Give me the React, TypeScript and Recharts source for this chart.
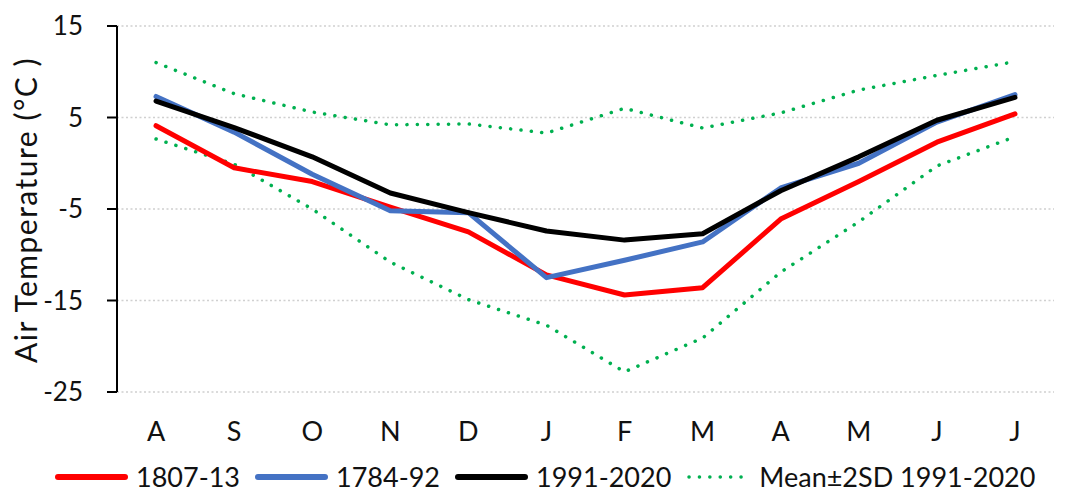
import React from "react";
import {
  LineChart,
  Line,
  XAxis,
  YAxis,
  CartesianGrid,
  Legend,
} from "recharts";

const MONTHS = ["A", "S", "O", "N", "D", "J", "F", "M", "A", "M", "J", "J"];
const T_1807_13 = [4.1, -0.5, -2.0, -4.8, -7.5, -12.2, -14.4, -13.6, -6.1, -2.0, 2.3, 5.4];
const T_1784_92 = [7.3, 3.4, -1.2, -5.2, -5.4, -12.5, -10.6, -8.6, -2.7, 0.0, 4.5, 7.5];
const T_1991_2020 = [6.8, 3.9, 0.7, -3.25, -5.4, -7.4, -8.4, -7.7, -3.0, 0.7, 4.7, 7.2];
const PLUS_2SD = [11.0, 7.6, 5.6, 4.2, 4.3, 3.3, 6.0, 3.85, 5.5, 8.0, 9.6, 11.1];
const MINUS_2SD = [2.65, -0.1, -5.0, -10.8, -14.9, -17.7, -22.8, -19.1, -11.9, -6.4, -0.3, 2.9];
const Y_TICKS = [-25, -15, -5, 5, 15];

const FONT = "Lato, 'Open Sans', sans-serif";
const GREEN = "#00b050";

const data = MONTHS.map((m, i) => ({
  x: i + 0.5,
  m,
  a: T_1807_13[i],
  b: T_1784_92[i],
  c: T_1991_2020[i],
  hi: PLUS_2SD[i],
  lo: MINUS_2SD[i],
}));

const LEGEND_ITEMS = [
  { name: "1807-13", color: "#ff0000", dotted: false },
  { name: "1784-92", color: "#4472c4", dotted: false },
  { name: "1991-2020", color: "#000000", dotted: false },
  { name: "Mean±2SD 1991-2020", color: GREEN, dotted: true },
];

const LegendContent = () => (
  <div style={{ display: "flex", alignItems: "center", height: 30, fontFamily: FONT, fontSize: 27, lineHeight: "30px", color: "#111", whiteSpace: "nowrap" }}>
    {LEGEND_ITEMS.map((it) => (
      <div key={it.name} style={{ display: "flex", flex: "none", alignItems: "center", marginRight: 13 }}>
        <svg width={it.dotted ? 66 : 73} height={10} style={{ flex: "none", marginRight: it.dotted ? 7 : 8 }}>
          <line
            x1={3}
            y1={5}
            x2={it.dotted ? 65 : 70}
            y2={5}
            stroke={it.color}
            strokeWidth={it.dotted ? 3.5 : 6}
            strokeLinecap="round"
            strokeDasharray={it.dotted ? "0.1 10.3" : undefined}
          />
        </svg>
        <span style={{ flex: "none", display: "inline-block", paddingRight: 2 }}>{it.name}</span>
      </div>
    ))}
  </div>
);

const YLabel = () => (
  <text
    x={25}
    y={210}
    transform="rotate(-90 25 210)"
    textAnchor="middle"
    dominantBaseline="central"
    fontFamily={FONT}
    fontSize={30}
    letterSpacing={1.5}
    fill="#111"
  >
    Air Temperature (°C )
  </text>
);

const tickFont = { fontFamily: FONT, fill: "#111" };

export default function App() {
  return (
    <div style={{ position: "absolute", left: 0, top: 0, width: 1069, height: 491, background: "#fff" }}>
      <LineChart
        width={1069}
        height={491}
        data={data}
        margin={{ top: 26, right: 15, left: 0, bottom: 49 }}
      >
        <CartesianGrid
          xAxisId="tk"
          vertical={false}
          stroke="#d0d0d0"
          strokeWidth={1.5}
          strokeDasharray="2 2.5"
        />
        <XAxis
          xAxisId="tk"
          dataKey="x"
          type="number"
          domain={[0, 12]}
          ticks={[0, 1, 2, 3, 4, 5, 6, 7, 8, 9, 10, 11, 12]}
          tick={false}
          tickSize={10}
          height={0}
          axisLine={{ stroke: "#000", strokeWidth: 2 }}
          tickLine={{ stroke: "#000", strokeWidth: 2 }}
        />
        <XAxis
          xAxisId="lab"
          dataKey="x"
          type="number"
          domain={[0, 12]}
          ticks={data.map((d) => d.x)}
          tickFormatter={(v: number) => MONTHS[Math.floor(v)]}
          tick={{ ...tickFont, fontSize: 27 }}
          tickLine={false}
          axisLine={false}
          tickSize={0}
          tickMargin={30}
          height={50}
        />
        <YAxis
          domain={[-25, 15]}
          ticks={Y_TICKS}
          width={117}
          tickSize={10}
          tickMargin={24}
          tick={{ ...tickFont, fontSize: 26 }}
          axisLine={{ stroke: "#000", strokeWidth: 2 }}
          tickLine={{ stroke: "#000", strokeWidth: 2 }}
          label={{ content: () => <YLabel /> }}
        />
        <Legend
          layout="horizontal"
          verticalAlign="middle"
          align="center"
          wrapperStyle={{ left: 55, top: 462, width: 1012, height: 29 }}
          content={() => <LegendContent />}
        />
        <Line xAxisId="tk" dataKey="hi" stroke={GREEN} strokeWidth={3.5} strokeDasharray="0.1 10.3" strokeLinecap="round" dot={false} isAnimationActive={false} />
        <Line xAxisId="tk" dataKey="lo" stroke={GREEN} strokeWidth={3.5} strokeDasharray="0.1 10.3" strokeLinecap="round" dot={false} isAnimationActive={false} />
        <Line xAxisId="tk" dataKey="a" stroke="#ff0000" strokeWidth={5} strokeLinejoin="round" strokeLinecap="round" dot={false} isAnimationActive={false} />
        <Line xAxisId="tk" dataKey="b" stroke="#4472c4" strokeWidth={5} strokeLinejoin="round" strokeLinecap="round" dot={false} isAnimationActive={false} />
        <Line xAxisId="tk" dataKey="c" stroke="#000000" strokeWidth={5} strokeLinejoin="round" strokeLinecap="round" dot={false} isAnimationActive={false} />
      </LineChart>
    </div>
  );
}
